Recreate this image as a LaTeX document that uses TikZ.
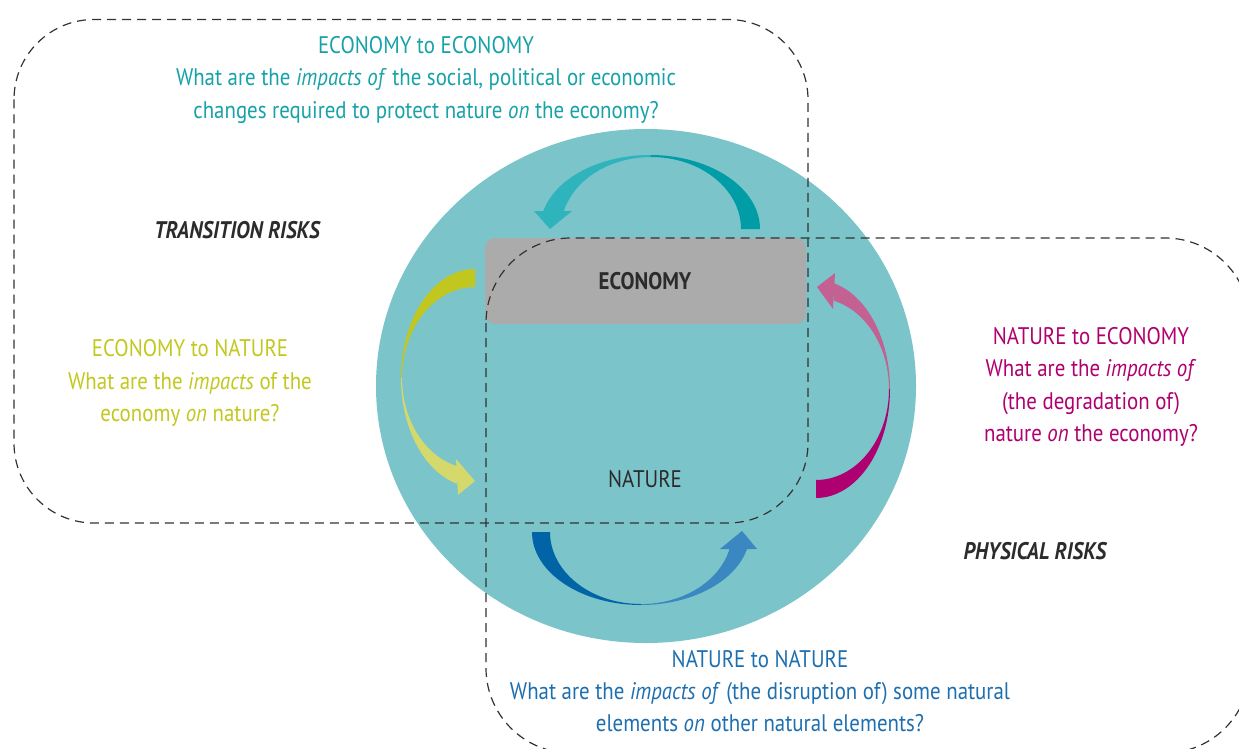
\documentclass[tikz,border=0pt]{standalone}
\usepackage{fontspec}
\setmainfont{PT Sans}[FakeStretch=0.87]
\definecolor{ellfill}{HTML}{7AC4CA}
\definecolor{rectfill}{HTML}{ABABAB}
\definecolor{dashcol}{HTML}{333333}
\definecolor{labelcol}{HTML}{2B2B2B}
\definecolor{tealtext}{HTML}{17A2A9}
\definecolor{yeltext}{HTML}{C2C81E}
\definecolor{magtext}{HTML}{B0006F}
\definecolor{bluetext}{HTML}{1E6FB0}
\definecolor{tealdark}{HTML}{009DA6}
\definecolor{teallight}{HTML}{2FB3BC}
\definecolor{yeldark}{HTML}{C2C71F}
\definecolor{yellight}{HTML}{D5D96B}
\definecolor{magdark}{HTML}{AE0070}
\definecolor{maglight}{HTML}{C46193}
\definecolor{bluedark}{HTML}{0064A7}
\definecolor{bluelight}{HTML}{3A87C1}
\tikzset{
  dashbox/.style={draw=dashcol, line width=1.2pt, dash pattern=on 9pt off 6pt, rounded corners=80pt},
  txt/.style={inner sep=0pt, align=center, font=\fontsize{24}{32.3}\selectfont},
  risk/.style={inner sep=0pt, font=\fontsize{24}{28}\selectfont\bfseries\itshape, text=labelcol},
}
\begin{document}
\begin{tikzpicture}[x=1pt,y=1pt,yscale=-1]
\useasboundingbox (0,0) rectangle (1239,749);
\fill[white] (0,0) rectangle (1239,749);
\begin{scope}
\clip (0,0) rectangle (1239,749);
% ellipse
\fill[ellfill] (646,386) ellipse [x radius=270pt, y radius=257pt];
% economy rectangle
\node[fill=rectfill, rounded corners=10pt, minimum width=321pt, minimum height=86pt, inner sep=0pt] (econ) at (645.5,281) {};
\node[inner sep=0pt, font=\fontsize{24}{28}\selectfont\bfseries, text=labelcol] (econlbl) at (645,281) {ECONOMY};
\node[inner sep=0pt, font=\fontsize{24}{28}\selectfont, text=labelcol] (natlbl) at (645,479) {NATURE};
% top arrow (teal)
\fill[tealdark] (760,229) arc[start angle=0,end angle=-90,x radius=110pt,y radius=74pt] -- (651,157) arc[start angle=-90,end angle=0,x radius=90pt,y radius=72pt] -- cycle;
\fill[teallight] (650,155) arc[start angle=-90,end angle=-166,x radius=110pt,y radius=74pt] -- (563.9,211) arc[start angle=-165.5,end angle=-90,x radius=90pt,y radius=72pt] -- cycle;
\fill[teallight] (534,211) -- (550,229) -- (572,211) -- cycle;
% left arrow (yellow)
\fill[yeldark] (475,269) arc[start angle=-90,end angle=-180,x radius=74pt,y radius=109pt] -- (402,378) arc[start angle=-180,end angle=-90,x radius=73pt,y radius=91pt] -- cycle;
\fill[yellight] (401,378) arc[start angle=180,end angle=104,x radius=74pt,y radius=109pt] -- (457,466.2) arc[start angle=104.3,end angle=180,x radius=73pt,y radius=91pt] -- cycle;
\fill[yellight] (456,459) -- (475,481) -- (458,495) -- cycle;
% right arrow (magenta)
\fill[magdark] (816,498) arc[start angle=90,end angle=0,x radius=74pt,y radius=109pt] -- (889,389) arc[start angle=0,end angle=90,x radius=73pt,y radius=91pt] -- cycle;
\fill[maglight] (890,389) arc[start angle=0,end angle=-76,x radius=74pt,y radius=109pt] -- (834,300.8) arc[start angle=-75.7,end angle=0,x radius=73pt,y radius=91pt] -- cycle;
\fill[maglight] (835,273) -- (817,287) -- (833,309) -- cycle;
% bottom arrow (blue)
\fill[bluedark] (532,532) arc[start angle=180,end angle=90,x radius=109pt,y radius=73pt] -- (641,604) arc[start angle=90,end angle=180,x radius=91pt,y radius=72pt] -- cycle;
\fill[bluelight] (641,605) arc[start angle=90,end angle=13.5,x radius=109pt,y radius=73pt] -- (729.5,549) arc[start angle=13.6,end angle=90,x radius=91pt,y radius=72pt] -- cycle;
\fill[bluelight] (720,549) -- (742,531) -- (757,549) -- cycle;
% dashed boxes
\draw[dashbox] (14,19.5) rectangle (808,523);
\draw[dashbox, rounded corners=85pt] (486,238) rectangle (1250,753);
\end{scope}
% texts
\node[txt, text=tealtext] (t1) at (426,80) {ECONOMY to ECONOMY\\What are the \textit{impacts of} the social, political or economic\\changes required to protect nature \textit{on} the economy?};
\node[txt, text=yeltext] (t2) at (190,383) {ECONOMY to NATURE\\What are the \textit{impacts} of the\\economy \textit{on} nature?};
\node[txt, text=magtext] (t3) at (1091,387) {NATURE to ECONOMY\\What are the \textit{impacts of}\\(the degradation of)\\nature \textit{on} the economy?};
\node[txt, text=bluetext] (t4) at (760,691) {NATURE to NATURE\\What are the \textit{impacts of} (the disruption of) some natural\\elements \textit{on} other natural elements?};
\node[risk] (tr) at (237,230) {TRANSITION RISKS};
\node[risk] (pr) at (1035,551) {PHYSICAL RISKS};
\end{tikzpicture}
\end{document}
